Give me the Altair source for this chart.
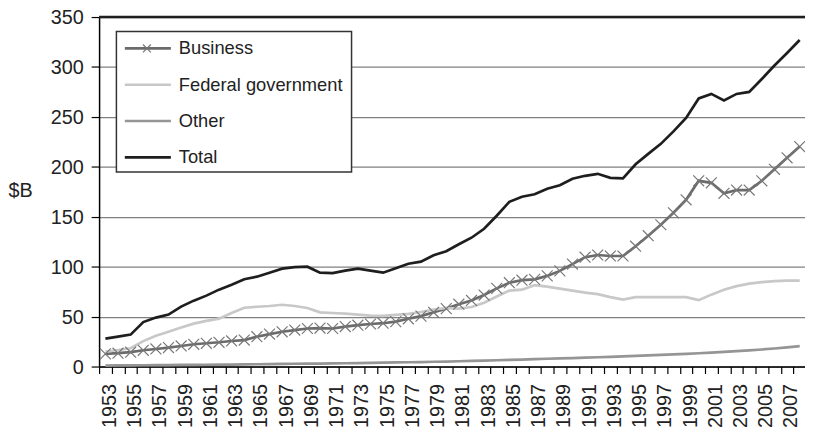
import altair as alt
import pandas as pd

years = list(range(1953, 2009))

business = [12.7, 13.4, 14.4, 16.3, 17.6, 19.0, 20.6, 22.3, 23.3, 24.3,
            25.6, 26.5, 29.9, 32.5, 34.8, 36.5, 38.1, 38.5, 38.1, 40.0,
            41.4, 42.6, 43.4, 45.0, 47.8, 50.5, 54.3, 58.0, 62.4, 66.2,
            71.6, 78.3, 84.0, 86.5, 87.3, 90.8, 95.8, 102.6, 109.5, 111.7,
            110.7, 110.7, 120.5, 131.0, 142.0, 154.0, 167.0, 186.0, 184.0, 173.5,
            176.7, 176.7, 186.0, 197.5, 209.0, 220.3]

federal = [15.0, 16.6, 18.3, 25.5, 30.9, 34.8, 39.0, 43.0, 45.7, 48.0,
           53.6, 58.9, 59.9, 60.6, 61.9, 60.6, 58.6, 54.3, 53.6, 53.0,
           52.0, 51.0, 50.7, 51.7, 52.7, 54.6, 57.0, 58.6, 58.0, 59.6,
           63.9, 70.1, 76.0, 77.0, 81.5, 80.0, 78.0, 76.0, 74.0, 72.5,
           69.5, 67.0, 69.5, 69.5, 69.5, 69.5, 69.5, 66.5, 72.0, 77.0,
           80.5, 83.0, 84.5, 85.5, 86.0, 86.0]

other = [1.0, 1.1, 1.2, 1.3, 1.4, 1.5, 1.6, 1.7, 1.8, 1.9,
         2.0, 2.2, 2.3, 2.5, 2.6, 2.8, 2.9, 3.0, 3.1, 3.3,
         3.5, 3.7, 3.9, 4.1, 4.3, 4.5, 4.8, 5.0, 5.3, 5.6,
         5.9, 6.3, 6.7, 7.0, 7.4, 7.8, 8.1, 8.5, 8.9, 9.3,
         9.7, 10.1, 10.6, 11.1, 11.6, 12.1, 12.7, 13.3, 14.0, 14.7,
         15.4, 16.2, 17.1, 18.1, 19.2, 20.5]

total = [28, 30, 32, 44.5, 49, 52, 60, 66, 71, 77,
         82, 87.5, 90, 94, 98, 99.5, 100, 94, 93.5, 96,
         98, 96, 94, 98.5, 103, 105, 111.5, 115.5, 122.5, 129,
         138, 151, 165, 170, 172.5, 178, 181.5, 188, 191, 193,
         189, 188.5, 202.5, 213, 223, 235.5, 249, 268.5, 273, 266.5,
         273, 275, 288, 301.5, 314, 327]

series_names = ["Business", "Federal government", "Other", "Total"]
series_colors = ["#6b6b6b", "#c8c8c8", "#959595", "#1e1e1e"]
y_ticks = [0, 50, 100, 150, 200, 250, 300, 350]
y_title = "$B"

rows = []
for name, vals in zip(series_names, [business, federal, other, total]):
    for yr, v in zip(years, vals):
        rows.append({"year": yr, "value": v, "series": name})
df = pd.DataFrame(rows)

FONT = "Liberation Sans"
CROSS = "M-1,-1L1,1M-1,1L1,-1"
boundaries = [yr - 0.5 for yr in years]

color_scale = alt.Scale(domain=series_names, range=series_colors)
x_scale = alt.Scale(domain=[1952.5, 2008.42], nice=False, zero=False)
y_scale = alt.Scale(domain=[0, 350], nice=False, zero=True)

x_axis = alt.Axis(
    values=boundaries,
    labelExpr="(datum.value + 0.5) % 2 == 1 ? toString(datum.value + 0.5) : ''",
    labelAngle=270, labelAlign="right", labelBaseline="middle",
    labelOffset=10.4, labelPadding=10, tickSize=7, tickColor="#000", tickWidth=1.2,
    labelOverlap=False, labelFlush=False, grid=False, title=None,
    domainColor="#000", domainWidth=1.5, labelFontSize=20, labelFont=FONT,
    labelColor="#222",
)
y_axis = alt.Axis(
    values=y_ticks, tickSize=8, labelPadding=8, tickColor="#000", tickWidth=1.2,
    labelOffset=1,
    grid=True, gridColor="#808080", gridWidth=1.2,
    domainColor="#000", domainWidth=1.5, labelFontSize=20, labelFont=FONT,
    labelColor="#222",
    title=y_title, titleAngle=0, titleX=-92, titleY=175, titleAlign="left",
    titleBaseline="middle", titleFontSize=20, titleFont=FONT,
    titleFontWeight="normal", titleColor="#222",
)

x_enc = alt.X("year:Q", scale=x_scale, axis=x_axis)
y_enc = alt.Y("value:Q", scale=y_scale, axis=y_axis)

lines = alt.Chart(df).mark_line(strokeWidth=2.7).encode(
    x=x_enc, y=y_enc,
    color=alt.Color("series:N", scale=color_scale, legend=None),
    order=alt.Order("year:Q"),
)

markers = alt.Chart(df[df["series"] == "Business"]).mark_point(
    shape=CROSS, size=121, filled=False, color="#777777", strokeWidth=1.2, opacity=1
).encode(x=x_enc, y=y_enc)

top_rule = alt.Chart(pd.DataFrame({"v": [350]})).mark_rule(
    color="#1e1e1e", strokeWidth=2.5
).encode(y=alt.Y("v:Q", scale=y_scale, axis=y_axis))

main = alt.layer(lines, markers, top_rule)

legend_df = pd.DataFrame({"series": series_names, "idx": list(range(len(series_names)))})
ly = alt.Y("idx:Q", scale=alt.Scale(domain=[0, 3], range=[31.7, 141.7]), axis=None)

box = alt.Chart(pd.DataFrame({"a": [0]})).mark_rect(
    fill="white", stroke="#333333", strokeWidth=1.5
).encode(x=alt.value(17.5), x2=alt.value(255), y=alt.value(14.5), y2=alt.value(156.5))

sym = alt.Chart(legend_df).mark_rule(strokeWidth=2.7).encode(
    x=alt.value(26), x2=alt.value(72.5), y=ly,
    color=alt.Color("series:N", scale=color_scale, legend=None),
)
sym_cross = alt.Chart(legend_df[legend_df["series"] == "Business"]).mark_point(
    shape=CROSS, size=64, filled=False, color="#777777", strokeWidth=1.2, opacity=1
).encode(x=alt.value(48.3), y=ly)
labels = alt.Chart(legend_df).mark_text(
    align="left", baseline="middle", fontSize=18.5, font=FONT, color="#222222"
).encode(x=alt.value(80.5), y=ly, text="series:N")

legend = alt.layer(box, sym, sym_cross, labels)

chart = alt.layer(main, legend).resolve_scale(y="independent").properties(
    width=713, height=353,
    padding={"left": 92, "top": 7, "right": 0, "bottom": 66},
    autosize=alt.AutoSizeParams(type="none"),
    background="white",
).configure_view(stroke=None)

chart.save("out.html", embed_options={"renderer": "svg", "actions": False})
